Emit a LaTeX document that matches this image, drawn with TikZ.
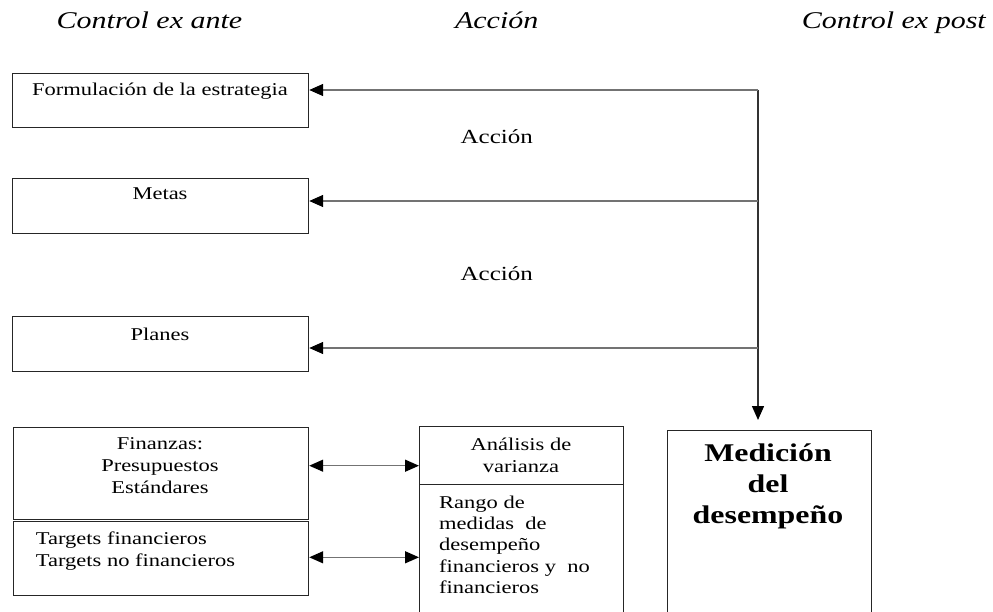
\documentclass[tikz,border=0pt]{standalone}
\usepackage{fontspec}
\setmainfont{Liberation Serif}[FakeStretch=1.25]
\usetikzlibrary{arrows.meta}
\begin{document}
\begin{tikzpicture}[x=1pt,y=-1pt,
  box/.style={draw=black!85,line width=1.2pt,inner sep=0pt,anchor=north west},
  conn/.style={draw=black!55,line width=1.4pt},
  vconn/.style={draw=black!80,line width=1.4pt},
  tip/.style={-{Triangle[length=14pt,width=12pt,color=black]}},
  dtip/.style={{Triangle[length=14pt,width=12pt,color=black]}-{Triangle[length=14pt,width=12pt,color=black]}},
  txt/.style={inner sep=0pt,anchor=base,font=\fontsize{18}{22}\selectfont},
  ltxt/.style={inner sep=0pt,anchor=base west,align=left,font=\fontsize{18}{22}\selectfont},
  ctxt/.style={inner sep=0pt,anchor=base,align=center,font=\fontsize{18}{22}\selectfont},
  acc/.style={inner sep=0pt,anchor=base,font=\fontsize{20}{24}\selectfont},
  hdr/.style={inner sep=0pt,anchor=base,font=\fontsize{24}{28}\selectfont\itshape},
]
\clip (0,0) rectangle (993,612);

% headers
\node[hdr] (h1) at (149.5,29) {Control ex ante};
\node[hdr] (h2) at (496.7,29) {Acción};
\node[hdr,anchor=base east] (h3) at (986,29) {Control ex post};

% left boxes
\node[box,minimum width=296pt,minimum height=54pt] (form) at (12,73) {};
\node[box,minimum width=296pt,minimum height=55pt] (metas) at (12,178) {};
\node[box,minimum width=296pt,minimum height=55pt] (planes) at (12,316) {};
\node[box,minimum width=295pt,minimum height=92pt] (fin) at (13,427) {};
\node[box,minimum width=295pt,minimum height=74pt] (targ) at (13,521) {};

\node[txt] (tform) at (160,95.7) {Formulación de la estrategia};
\node[txt] (tmetas) at (160,199.3) {Metas};
\node[txt] (tplanes) at (160,340.7) {Planes};
% multi-line nodes: base anchor is the baseline of the last line
\node[ctxt] (tfin) at (160,493) {Finanzas:\\Presupuestos\\Estándares};
\node[ltxt] (ttarg) at (35.7,566) {Targets financieros\\Targets no financieros};

% middle labels
\node[acc] (acc1) at (496.7,143.3) {Acción};
\node[acc] (acc2) at (496.7,280) {Acción};

% analysis box
\node[box,minimum width=204pt,minimum height=200pt] (anal) at (419,426) {};
\coordinate (adiv) at (419,484.3);
\draw[draw=black!85,line width=1.2pt] (adiv) -- (adiv -| anal.east);
\node[ctxt] (tanal) at (521,472.3) {Análisis de\\varianza};
\node[ltxt,font=\fontsize{18}{21.3}\selectfont] (trango) at (439,593.3) {Rango de\\medidas\ \ de\\desempeño\\financieros y\ \ no\\financieros};

% measurement box
\node[box,minimum width=204pt,minimum height=200pt] (med) at (667,430) {};
\node[inner sep=0pt,anchor=base,align=center,font=\fontsize{25.5}{30.7}\selectfont\bfseries] (tmed) at (768,523) {Medición\\del\\desempeño};

% connectors
\coordinate (c1) at (758,90);
\coordinate (c2) at (758,201);
\coordinate (c3) at (758,348);
\coordinate (c4) at (758,420);
\draw[vconn,tip] (c1) -- (c4);
\draw[conn,tip] (c1) -- (c1 -| form.east);
\draw[conn,tip] (c2) -- (c2 -| metas.east);
\draw[conn,tip] (c3) -- (c3 -| planes.east);

\coordinate (d1) at (0,465.7);
\coordinate (d2) at (0,557.3);
\draw[conn,dtip] (d1 -| fin.east) -- (d1 -| anal.west);
\draw[conn,dtip] (d2 -| targ.east) -- (d2 -| anal.west);
\end{tikzpicture}
\end{document}
